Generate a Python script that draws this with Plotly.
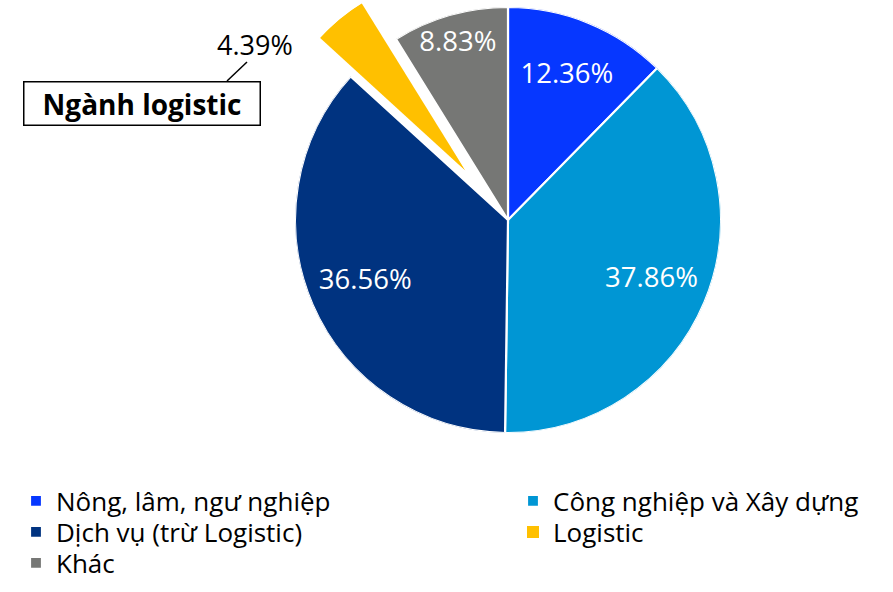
import plotly.graph_objects as go

# ---------------- data ----------------
labels = ["Nông, lâm, ngư nghiệp", "Công nghiệp và Xây dựng",
          "Dịch vụ (trừ Logistic)", "Logistic", "Khác"]
values = [12.36, 37.86, 36.56, 4.39, 8.83]
colors = ["#0637FF", "#0096D4", "#003380", "#FFC000", "#767775"]
highlight = "Logistic"
callout_title = "Ngành logistic"

# ---------------- layout helpers ----------------
W, H = 893, 592
FONT = "Open Sans"


def px(x0, x1):
    return [x0 / W, x1 / W]


def py(top, bottom):
    return [1 - bottom / H, 1 - top / H]


total = sum(values)
spans = [v / total * 360 for v in values]
starts = [sum(spans[:i]) for i in range(len(values))]
mids = [s + w / 2 for s, w in zip(starts, spans)]
hi = labels.index(highlight)

fig = go.Figure()

legend_ids = ["legend", "legend2", "legend3"]
for i, (lab, col) in enumerate(zip(labels, colors)):
    is_hi = lab == highlight
    fig.add_trace(go.Barpolar(
        name=lab, r=[1], theta=[mids[i]], width=[spans[i]], base=0,
        marker=dict(color=col,
                    line=dict(color="white", width=0 if is_hi else 2.2)),
        subplot="polar2" if is_hi else "polar",
        legend=legend_ids[i // 2],
        legendwidth=452 if i % 2 == 0 else None,
        hoverinfo="skip",
    ))

# percentage labels inside the slices
lab_idx = [i for i, l in enumerate(labels) if l != highlight]
fig.add_trace(go.Scatterpolar(
    r=[0.73 if spans[i] >= 40 else 0.86 for i in lab_idx],
    theta=[mids[i] for i in lab_idx],
    text=[f"{values[i]:.2f}%" for i in lab_idx],
    mode="text", textposition="middle center",
    textfont=dict(family=FONT, size=27.5, color="white"),
    subplot="polar", showlegend=False, hoverinfo="skip", cliponaxis=False,
))

hidden_axes = dict(
    bgcolor="rgba(0,0,0,0)",
    radialaxis=dict(visible=False, range=[0, 1]),
    angularaxis=dict(visible=False, rotation=90, direction="clockwise"),
)

legend_common = dict(
    orientation="h", xanchor="left", yanchor="middle",
    font=dict(family=FONT, size=26, color="black"),
    bgcolor="rgba(0,0,0,0)", traceorder="normal",
)

fig.update_layout(
    width=W, height=H,
    margin=dict(l=0, r=0, t=0, b=0, autoexpand=False),
    paper_bgcolor="white", plot_bgcolor="white",
    polar=dict(domain=dict(x=px(295, 721), y=py(7, 433)), **hidden_axes),
    polar2=dict(domain=dict(x=px(314.4, 465.7), y=py(0, 171)),
                sector=[120, 140], **hidden_axes),
    legend=dict(x=16 / W, y=1 - 501 / H, **legend_common),
    legend2=dict(x=16 / W, y=1 - 532 / H, **legend_common),
    legend3=dict(x=16 / W, y=1 - 563 / H, **legend_common),
    annotations=[
        dict(text=f"{values[hi]:.2f}%", xref="paper", yref="paper",
             x=255 / W, y=1 - 45 / H, showarrow=False,
             xanchor="center", yanchor="middle",
             font=dict(family=FONT, size=27, color="black")),
        dict(text=f"<b>{callout_title}</b>", xref="paper", yref="paper",
             x=142 / W, y=1 - 103.5 / H, showarrow=False,
             xanchor="center", yanchor="middle",
             width=231, height=38, borderpad=2, borderwidth=1.5,
             bordercolor="black", bgcolor="white",
             font=dict(family=FONT, size=28, color="black")),
    ],
    shapes=[
        dict(type="line", xref="paper", yref="paper",
             x0=227 / W, y0=1 - 81 / H, x1=247 / W, y1=1 - 62 / H,
             line=dict(color="black", width=1.5)),
    ],
)

fig.write_html("out.html",
               config={"displayModeBar": False},
               post_script="document.body.style.margin='0px';")
